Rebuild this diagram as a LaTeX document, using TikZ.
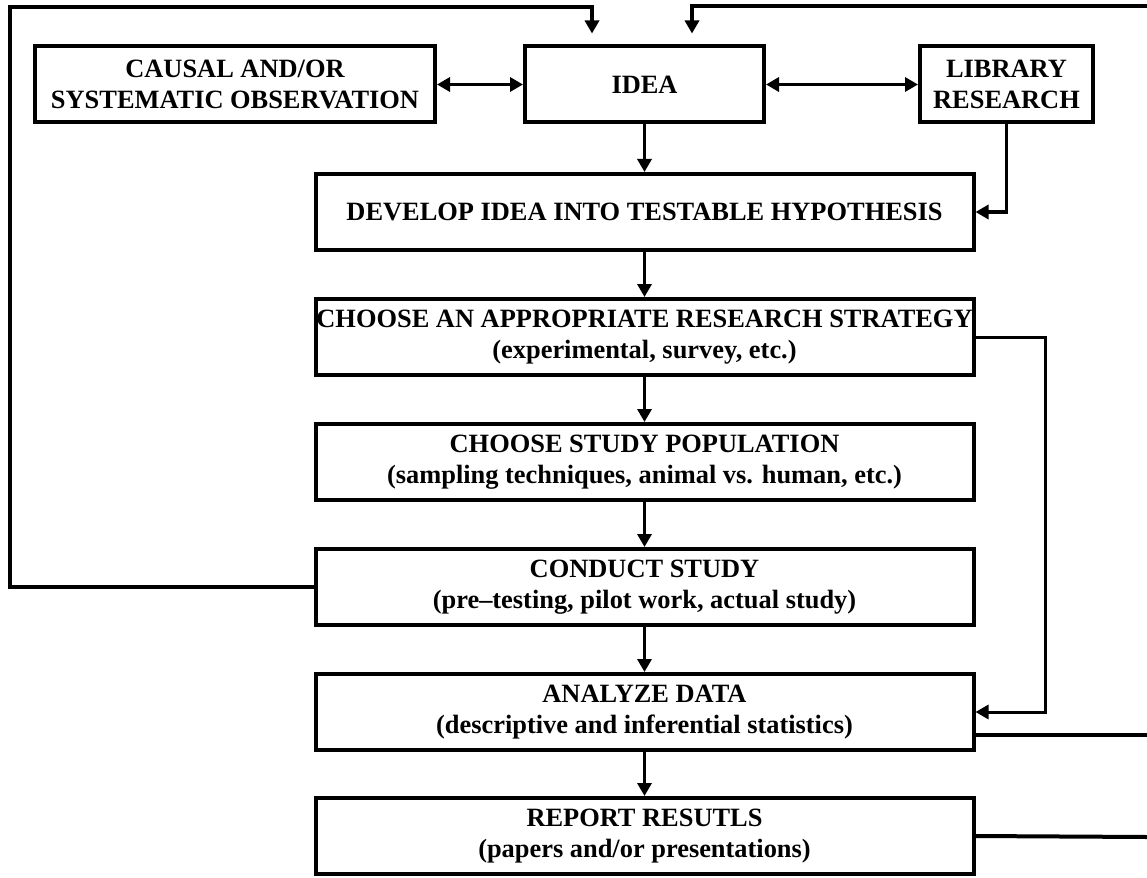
\documentclass[tikz,border=0pt]{standalone}
\usepackage{fontspec}
\setmainfont{Liberation Serif}
\usetikzlibrary{arrows.meta}
\begin{document}
\begin{tikzpicture}[x=1pt,y=-1pt,
  box/.style={draw, line width=4pt, inner sep=0pt, align=center,
    font=\fontsize{26.4}{31}\selectfont\bfseries},
  conn/.style={line width=3.5pt, -{Triangle[length=13pt,width=14pt]}},
  dconn/.style={line width=3.5pt, {Triangle[length=13pt,width=14pt]}-{Triangle[length=13pt,width=14pt]}},
  plain/.style={line width=3.5pt}]
\useasboundingbox (0,0) rectangle (1147,877);

\node[box, minimum width=400pt, minimum height=76pt] (causal) at (235,84.5) {CAUSAL AND/OR\\SYSTEMATIC OBSERVATION};
\node[box, minimum width=239pt, minimum height=76pt] (idea) at (644.5,84.5) {IDEA};
\node[box, minimum width=173pt, minimum height=76pt] (library) at (1006.5,84.5) {LIBRARY\\RESEARCH};

\node[box, minimum width=658pt, minimum height=76pt] (develop) at (644.5,212) {DEVELOP IDEA INTO TESTABLE HYPOTHESIS};
\node[box, minimum width=658pt, minimum height=76pt] (strategy) at (644.5,337) {CHOOSE AN APPROPRIATE RESEARCH STRATEGY\\(experimental, survey, etc.)};
\node[box, minimum width=658pt, minimum height=76pt] (population) at (644.5,462) {CHOOSE STUDY POPULATION\\(sampling techniques, animal vs. human, etc.)};
\node[box, minimum width=658pt, minimum height=76pt] (conduct) at (644.5,587) {CONDUCT STUDY\\(pre--testing, pilot work, actual study)};
\node[box, minimum width=658pt, minimum height=76pt] (analyze) at (644.5,712) {ANALYZE DATA\\(descriptive and inferential statistics)};
\node[box, minimum width=658pt, minimum height=76pt] (report) at (644.5,836) {REPORT RESUTLS\\(papers and/or presentations)};

% free ends at the right edge
\coordinate (rtop) at (1147,6);
\coordinate (ranalyze) at (1147,735);
\coordinate (rreport) at (1147,837);

% horizontal double arrows
\draw[dconn] (causal.east) -- (idea.west);
\draw[dconn] (idea.east) -- (library.west);

% main chain
\draw[conn] (idea.south) -- (develop.north);
\draw[conn] (develop.south) -- (strategy.north);
\draw[conn] (strategy.south) -- (population.north);
\draw[conn] (population.south) -- (conduct.north);
\draw[conn] (conduct.south) -- (analyze.north);
\draw[conn] (analyze.south) -- (report.north);

% library to develop
\draw[conn] (library.south) |- (develop.east);

% strategy to analyze
\draw[conn, line width=3pt] (strategy.east) -- (1045,337) |- (analyze.east);

% conduct loop back to idea
\draw[conn, line width=4pt, shorten >=11pt] (conduct.west) -| (10,7) -| ([xshift=-52.5pt]idea.north);

% right loops
\draw[conn, line width=4pt, shorten >=11pt] (rtop) -| ([xshift=47.5pt]idea.north);
\draw[plain, line width=4pt] ([yshift=-23pt]analyze.east) -- (ranalyze);
\draw[plain, line width=4pt] (report.east) -- (rreport);
\end{tikzpicture}
\end{document}
